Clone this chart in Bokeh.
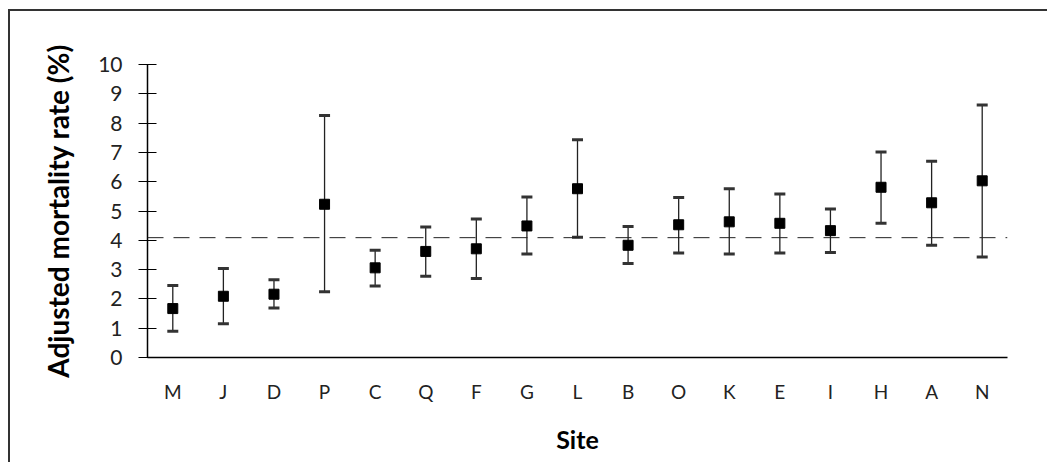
from bokeh.plotting import figure
from bokeh.models import Span, ColumnDataSource
from bokeh.embed import file_html
from bokeh.resources import INLINE

sites = ["M", "J", "D", "P", "C", "Q", "F", "G", "L", "B", "O", "K", "E", "I", "H", "A", "N"]
rate = [1.67, 2.09, 2.16, 5.23, 3.06, 3.62, 3.71, 4.49, 5.76, 3.83, 4.53, 4.63, 4.58, 4.33, 5.81, 5.28, 6.03]
upper = [2.46, 3.04, 2.65, 8.26, 3.66, 4.45, 4.73, 5.48, 7.43, 4.47, 5.46, 5.76, 5.58, 5.07, 7.01, 6.70, 8.62]
lower = [0.90, 1.15, 1.69, 2.24, 2.44, 2.77, 2.70, 3.53, 4.10, 3.21, 3.57, 3.53, 3.57, 3.58, 4.58, 3.83, 3.43]
overall_rate = 4.09
y_ticks = list(range(0, 11))

FONT = "Lato"

src = ColumnDataSource(dict(site=sites, rate=rate, upper=upper, lower=lower))

p = figure(x_range=sites, y_range=(0, 10), width=1039, height=453,
           output_backend="svg", toolbar_location=None,
           min_border_left=137, min_border_right=42, min_border_top=53, min_border_bottom=107)
p.styles = {"margin-left": "8px", "margin-top": "9px",
            "border-left": "2px solid #333", "border-top": "2px solid #333"}
p.outline_line_color = None
p.grid.grid_line_color = None
p.background_fill_color = "white"

p.add_layout(Span(location=overall_rate, dimension="width", line_color="#222",
                  line_width=1, line_dash="16 10"))

p.segment(x0="site", y0="lower", x1="site", y1="upper", source=src, line_color="#222", line_width=1.3)
p.scatter(x="site", y="upper", source=src, marker="dash", size=11, line_width=3, line_color="#333")
p.scatter(x="site", y="lower", source=src, marker="dash", size=11, line_width=3, line_color="#333")
p.scatter(x="site", y="rate", source=src, marker="square", size=10, fill_color="black", line_color="black")

ya = p.yaxis[0]
ya.ticker = y_ticks
ya.axis_line_color = "black"
ya.axis_line_width = 1.5
ya.major_tick_in = 9
ya.major_tick_out = 9
ya.major_tick_line_color = "black"
ya.major_tick_line_width = 1
ya.minor_tick_line_color = None
ya.major_label_text_font = FONT
ya.major_label_text_font_size = "21px"
ya.major_label_text_color = "#222"
ya.major_label_standoff = 16
ya.axis_label = "Adjusted mortality rate (%)"
ya.axis_label_text_font = FONT
ya.axis_label_text_font_style = "bold"
ya.axis_label_text_font_size = "28px"
ya.axis_label_text_color = "black"
ya.axis_label_standoff = 20

xa = p.xaxis[0]
xa.axis_line_color = "black"
xa.axis_line_width = 1.5
xa.major_tick_line_color = None
xa.major_tick_in = 0
xa.major_tick_out = 0
xa.major_label_text_font = FONT
xa.major_label_text_font_size = "19px"
xa.major_label_text_color = "#222"
xa.major_label_standoff = 22
xa.axis_label = "Site"
xa.axis_label_text_font = FONT
xa.axis_label_text_font_style = "bold"
xa.axis_label_text_font_size = "25px"
xa.axis_label_text_color = "black"
xa.axis_label_standoff = 18

open("out.html", "w").write(file_html(p, INLINE))
